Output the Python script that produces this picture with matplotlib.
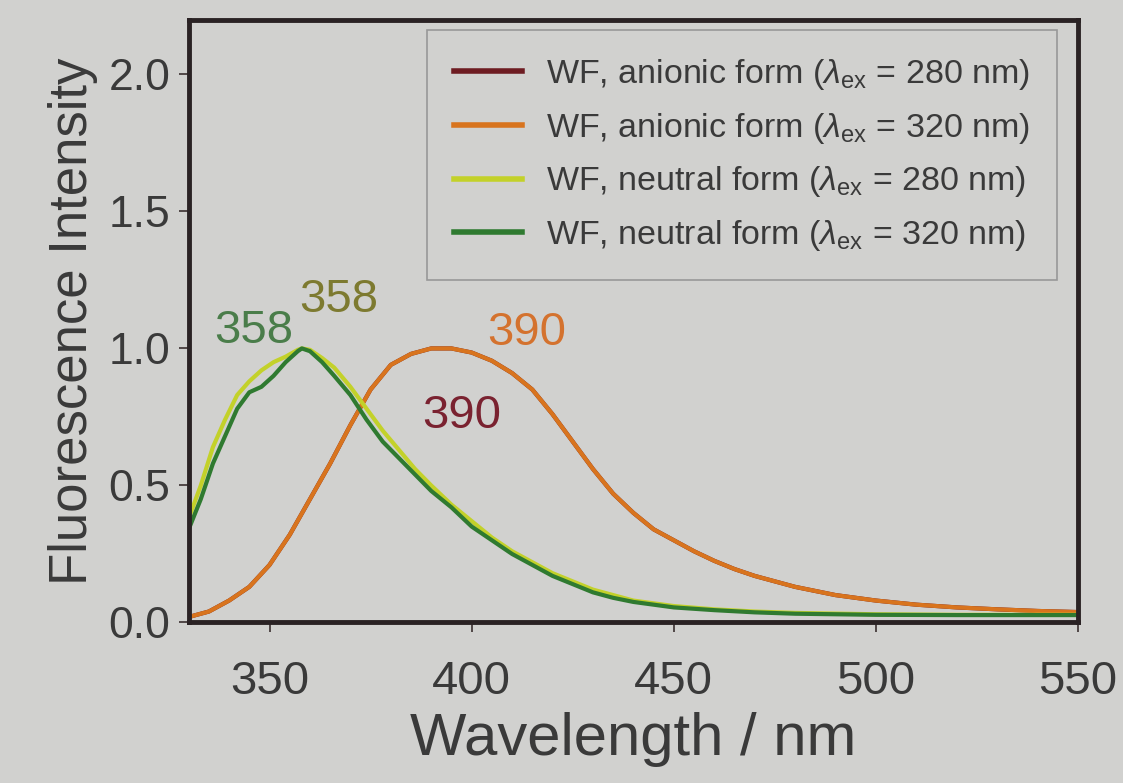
import matplotlib
matplotlib.use('Agg')
import matplotlib.pyplot as plt

plt.rcParams['font.family'] = ['Liberation Sans', 'DejaVu Sans']
plt.rcParams['mathtext.fontset'] = 'custom'
plt.rcParams['mathtext.rm'] = 'Liberation Sans'
plt.rcParams['mathtext.it'] = 'Liberation Sans:italic'

# anionic form (both excitations overlap almost perfectly)
wl_anion = [330, 335, 340, 345, 350, 355, 360, 365, 370, 375, 380, 385, 390,
            395, 400, 405, 410, 415, 420, 425, 430, 435, 440, 445, 450, 455,
            460, 465, 470, 480, 490, 500, 510, 520, 530, 540, 550]
anion_280 = [0.02, 0.04, 0.08, 0.13, 0.21, 0.32, 0.45, 0.58, 0.72, 0.85, 0.94,
             0.98, 1.00, 1.00, 0.985, 0.955, 0.91, 0.85, 0.76, 0.66, 0.56,
             0.47, 0.40, 0.34, 0.30, 0.26, 0.225, 0.195, 0.17, 0.13, 0.10,
             0.08, 0.065, 0.055, 0.048, 0.042, 0.038]
anion_320 = [0.02, 0.04, 0.08, 0.13, 0.21, 0.32, 0.45, 0.58, 0.72, 0.85, 0.94,
             0.98, 1.00, 1.00, 0.985, 0.955, 0.91, 0.85, 0.76, 0.66, 0.56,
             0.47, 0.40, 0.34, 0.30, 0.26, 0.225, 0.195, 0.17, 0.13, 0.10,
             0.08, 0.065, 0.055, 0.048, 0.042, 0.038]

# neutral form
wl_neutral = [330, 333, 336, 339, 342, 345, 348, 351, 354, 357, 358, 360, 363,
              366, 370, 374, 378, 382, 386, 390, 395, 400, 405, 410, 415, 420,
              425, 430, 435, 440, 450, 460, 470, 480, 500, 520, 550]
neutral_280 = [0.38, 0.50, 0.64, 0.74, 0.83, 0.88, 0.92, 0.95, 0.97, 0.995,
               1.00, 0.995, 0.965, 0.93, 0.86, 0.78, 0.70, 0.63, 0.56, 0.50,
               0.43, 0.37, 0.31, 0.26, 0.22, 0.18, 0.15, 0.12, 0.10, 0.08,
               0.06, 0.048, 0.04, 0.035, 0.03, 0.028, 0.028]
neutral_320 = [0.34, 0.45, 0.58, 0.68, 0.78, 0.84, 0.86, 0.90, 0.95, 0.99,
               1.00, 0.99, 0.95, 0.90, 0.83, 0.74, 0.66, 0.60, 0.54, 0.48,
               0.42, 0.35, 0.30, 0.25, 0.21, 0.17, 0.14, 0.11, 0.09, 0.075,
               0.055, 0.045, 0.037, 0.032, 0.028, 0.027, 0.027]

labels = [r'WF, anionic form ($\lambda_{\rm ex}$ = 280 nm)',
          r'WF, anionic form ($\lambda_{\rm ex}$ = 320 nm)',
          r'WF, neutral form ($\lambda_{\rm ex}$ = 280 nm)',
          r'WF, neutral form ($\lambda_{\rm ex}$ = 320 nm)']
colors = ['#6e1c22', '#d8741e', '#c3d12a', '#2f7a30']

# peak annotations: text, x, y, colour
peak_text = ['358', '358', '390', '390']
peak_x = [346, 367, 413.5, 397.5]
peak_y = [1.065, 1.175, 1.055, 0.755]
peak_col = ['#4a7d4a', '#7d7a30', '#d4722e', '#7a2230']

bg = '#d1d1cf'
fig = plt.figure(figsize=(11.23, 7.83), dpi=100, facecolor=bg)
ax = fig.add_axes([0.168, 0.205, 0.792, 0.77])
ax.set_facecolor(bg)

ax.plot(wl_anion, anion_280, color=colors[0], lw=3, label=labels[0])
ax.plot(wl_anion, anion_320, color=colors[1], lw=3, label=labels[1])
ax.plot(wl_neutral, neutral_280, color=colors[2], lw=3, label=labels[2])
ax.plot(wl_neutral, neutral_320, color=colors[3], lw=3, label=labels[3])

for t, x, y, c in zip(peak_text, peak_x, peak_y, peak_col):
    ax.text(x, y, t, color=c, fontsize=34, ha='center', va='center')

ax.set_xlim(330, 550)
ax.set_ylim(0, 2.2)
ax.set_xticks([350, 400, 450, 500, 550])
ax.set_yticks([0.0, 0.5, 1.0, 1.5, 2.0])
ax.set_yticklabels(['0.0', '0.5', '1.0', '1.5', '2.0'])
ax.tick_params(direction='out', length=7, width=1.2, color='#3a3030',
               labelcolor='#3a3a3a')
ax.tick_params(axis='x', pad=20, labelsize=34)
ax.tick_params(axis='y', pad=6, labelsize=32)

for s in ax.spines.values():
    s.set_linewidth(3.5)
    s.set_color('#2a2224')

ax.set_xlabel('Wavelength / nm', fontsize=43, color='#3a3a3a', labelpad=6)
ax.set_ylabel('Fluorescence Intensity', fontsize=38, color='#3a3a3a', labelpad=8)

leg = ax.legend(loc='upper right', fontsize=24.5, frameon=True, fancybox=False,
                handlelength=2.0, handletextpad=0.7, labelspacing=0.55,
                borderpad=0.8, borderaxespad=0,
                bbox_to_anchor=(0.976, 0.983))
leg.get_frame().set_facecolor(bg)
leg.get_frame().set_edgecolor('#8a8a8a')
leg.get_frame().set_linewidth(1.2)
for line in leg.get_lines():
    line.set_linewidth(4)
for txt in leg.get_texts():
    txt.set_color('#3a3a3a')

fig.savefig('out.png', dpi=100, facecolor=bg)
